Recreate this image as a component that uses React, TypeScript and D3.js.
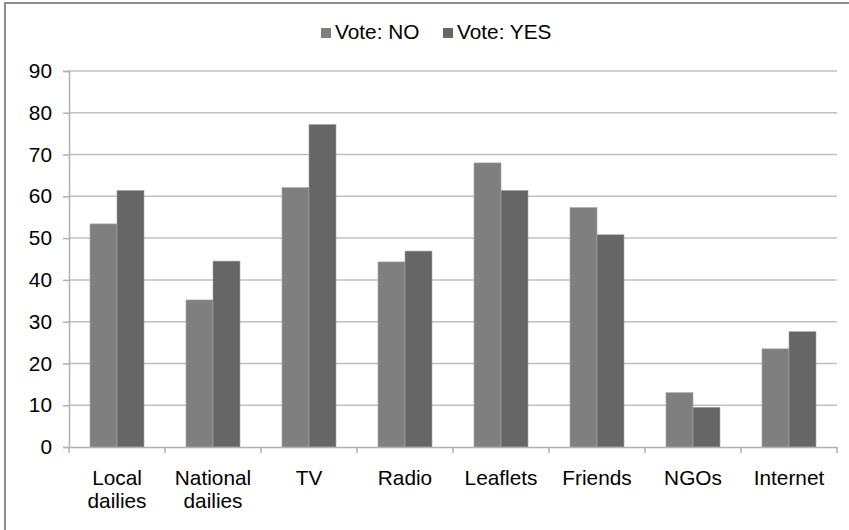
import React, { useEffect, useRef } from "react";
import * as d3 from "d3";

const categories = [
  ["Local", "dailies"],
  ["National", "dailies"],
  ["TV"],
  ["Radio"],
  ["Leaflets"],
  ["Friends"],
  ["NGOs"],
  ["Internet"],
];
const voteNo = [53.4, 35.2, 62.1, 44.3, 68.0, 57.3, 13.0, 23.5];
const voteYes = [61.4, 44.5, 77.2, 46.9, 61.4, 50.8, 9.5, 27.6];
const seriesNames = ["Vote: NO", "Vote: YES"];
const seriesColors = ["#7f7f7f", "#666666"];
const yTicks = [0, 10, 20, 30, 40, 50, 60, 70, 80, 90];

const App = () => {
  const svgRef = useRef<SVGSVGElement>(null);

  useEffect(() => {
    const svg = d3.select(svgRef.current);
    const width = 849;
    const height = 530;
    const left = 69;
    const right = 837;
    const top = 71;
    const bottom = 447;
    const font = "'Liberation Sans', Arial, sans-serif";
    const fontSize = 20.8;

    svg.selectAll("*").remove();

    // outer frame
    svg.append("path")
      .attr("d", `M5,${height} V3 H${width}`)
      .attr("fill", "none")
      .attr("stroke", "#8c8c8c")
      .attr("stroke-width", 2);

    const keys = categories.map((c) => c.join(" "));
    const x = d3.scaleBand().domain(keys).range([left, right]).padding(0);
    const y = d3.scaleLinear().domain([0, 90]).range([bottom, top]);

    const barW = (x.bandwidth() * 27) / 96;
    const inner = d3.scaleBand()
      .domain(["0", "1"])
      .range([x.bandwidth() / 2 - barW, x.bandwidth() / 2 + barW]);

    // gridlines
    svg.append("g")
      .selectAll("line")
      .data(yTicks.filter((t) => t > 0))
      .join("line")
      .attr("x1", left)
      .attr("x2", right)
      .attr("y1", (d) => y(d))
      .attr("y2", (d) => y(d))
      .attr("stroke", "#c0c0c0")
      .attr("stroke-width", 1.5);

    // y axis
    const yAxis = svg.append("g")
      .attr("transform", `translate(${left},0)`)
      .call(d3.axisLeft(y).tickValues(yTicks).tickSize(6).tickPadding(11));
    yAxis.select(".domain").attr("stroke", "#b0b0b0").attr("stroke-width", 1.5);
    yAxis.selectAll(".tick line").attr("stroke", "#b0b0b0").attr("stroke-width", 1.5);
    yAxis.selectAll(".tick text")
      .attr("font-family", font)
      .attr("font-size", fontSize)
      .attr("fill", "#000");

    // bars
    const series = [voteNo, voteYes];
    series.forEach((vals, si) => {
      svg.append("g")
        .selectAll("rect")
        .data(vals)
        .join("rect")
        .attr("x", (_, i) => (x(keys[i]) ?? 0) + (inner(String(si)) ?? 0))
        .attr("y", (d) => y(d))
        .attr("width", inner.bandwidth())
        .attr("height", (d) => bottom - y(d))
        .attr("fill", seriesColors[si])
        .attr("stroke", "#a6a6a6")
        .attr("stroke-width", 0.6);
    });

    // x axis
    const xAxis = svg.append("g")
      .attr("transform", `translate(0,${bottom})`)
      .call(d3.axisBottom(x).tickSize(0).tickFormat(() => ""));
    xAxis.select(".domain").attr("stroke", "#b0b0b0").attr("stroke-width", 1.5);
    svg.append("g")
      .selectAll("line")
      .data(d3.range(keys.length + 1))
      .join("line")
      .attr("x1", (i) => left + i * x.step())
      .attr("x2", (i) => left + i * x.step())
      .attr("y1", bottom)
      .attr("y2", bottom + 6)
      .attr("stroke", "#b0b0b0")
      .attr("stroke-width", 1.5);

    // category labels
    const labels = svg.append("g")
      .selectAll("text")
      .data(categories)
      .join("text")
      .attr("x", (_, i) => (x(keys[i]) ?? 0) + x.bandwidth() / 2)
      .attr("y", 485)
      .attr("text-anchor", "middle")
      .attr("font-family", font)
      .attr("font-size", fontSize)
      .attr("fill", "#000");
    labels.each(function (d, i) {
      const cx = (x(keys[i]) ?? 0) + x.bandwidth() / 2;
      d3.select(this)
        .selectAll("tspan")
        .data(d)
        .join("tspan")
        .attr("x", cx)
        .attr("dy", (_, j) => (j === 0 ? 0 : 23))
        .text((t) => t);
    });

    // legend
    const legendX = [321, 443];
    const legend = svg.append("g")
      .selectAll("g")
      .data(seriesNames)
      .join("g")
      .attr("transform", (_, i) => `translate(${legendX[i]},28)`);
    legend.append("rect")
      .attr("width", 10)
      .attr("height", 10)
      .attr("fill", (_, i) => seriesColors[i]);
    legend.append("text")
      .attr("x", 14)
      .attr("y", 10.5)
      .attr("font-family", font)
      .attr("font-size", fontSize)
      .attr("fill", "#000")
      .text((d) => d);
  }, []);

  return (
    <svg
      ref={svgRef}
      width={849}
      height={530}
      style={{ position: "absolute", left: 0, top: 0, background: "#fff" }}
    />
  );
};

export default App;
